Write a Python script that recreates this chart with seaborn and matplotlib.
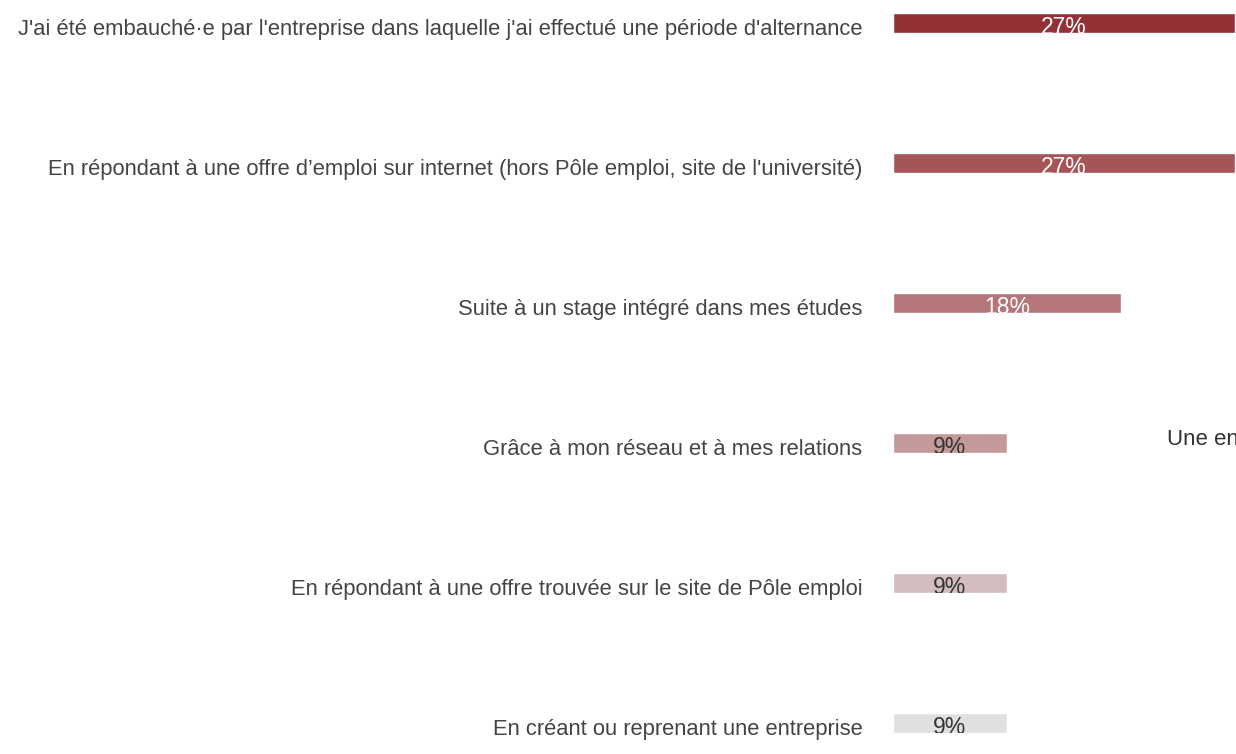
import matplotlib
matplotlib.use("Agg")
import matplotlib.pyplot as plt
from matplotlib.transforms import ScaledTranslation
import seaborn as sns
import pandas as pd

categories = [
    "J'ai été embauché·e par l'entreprise dans laquelle j'ai effectué une période d'alternance",
    "En répondant à une offre d’emploi sur internet (hors Pôle emploi, site de l'université)",
    "Suite à un stage intégré dans mes études",
    "Grâce à mon réseau et à mes relations",
    "En répondant à une offre trouvée sur le site de Pôle emploi",
    "En créant ou reprenant une entreprise",
]
values = [27, 27, 18, 9, 9, 9]
value_labels = ["27%", "27%", "18%", "9%", "9%", "9%"]
colors = ["#943137", "#a75458", "#b57679", "#c4999a", "#d4bdbe", "#e0e0e0"]
label_colors = ["white", "white", "white", "#333333", "#333333", "#333333"]
side_text = "Une entreprise"

sns.set_theme(style="white")
plt.rcParams['font.family'] = ['Liberation Sans', 'DejaVu Sans']

df = pd.DataFrame({"cat": categories, "val": values})

fig = plt.figure(figsize=(12.36, 7.54), dpi=100)
ax = fig.add_axes([893 / 1236, 0, 1 - 893 / 1236, 1])
sns.barplot(data=df, y="cat", x="val", hue="cat", palette=colors,
            orient="h", width=0.143, legend=False, ax=ax, saturation=1)

ax.set_xlim(0, 27.1)
ax.set_ylim((754 - 23) / 140, -23 / 140)
for s in ax.spines.values():
    s.set_visible(False)
ax.set_xlabel("")
ax.set_ylabel("")
ax.set_xticks([])
ax.tick_params(axis="y", length=0, pad=22, labelsize=15.8, labelcolor="#444444")
for lab in ax.get_yticklabels():
    lab.set_transform(lab.get_transform() + ScaledTranslation(0, -0.04, fig.dpi_scale_trans))

bars = sorted(ax.patches, key=lambda p: p.get_y())
for i, (v, t, c) in enumerate(zip(values, value_labels, label_colors)):
    txt = ax.text(v / 2, i + 0.035, t, ha="center", va="center", fontsize=16.5,
                  color=c, clip_on=True)
    txt.set_clip_path(bars[i])

fig.text(1167 / 1236, 1 - 440 / 754, side_text, ha="left", va="center",
         fontsize=16, color="#333333")

fig.savefig("out.png", dpi=100)
